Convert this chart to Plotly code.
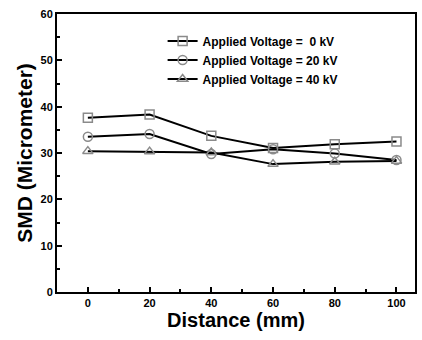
import plotly.graph_objects as go

distance = [0, 20, 40, 60, 80, 100]
smd_0kv = [37.6, 38.3, 33.7, 31.1, 31.9, 32.5]
smd_20kv = [33.5, 34.1, 29.8, 30.8, 29.9, 28.5]
smd_40kv = [30.4, 30.3, 30.1, 27.6, 28.1, 28.3]
names = ["Applied Voltage =  0 kV", "Applied Voltage = 20 kV", "Applied Voltage = 40 kV"]
symbols = ["square-open", "circle-open", "triangle-up-open"]

fig = go.Figure()
for ys, nm, sym in zip([smd_0kv, smd_20kv, smd_40kv], names, symbols):
    fig.add_trace(go.Scatter(
        x=distance, y=ys, name=nm, mode="lines+markers",
        line=dict(color="black", width=2),
        marker=dict(symbol=sym, size=9, color="#8a8a8a", line=dict(width=1.5, color="#8a8a8a")),
    ))

font = "Liberation Sans, Arial, sans-serif"
fig.update_layout(
    width=422, height=340,
    margin=dict(l=57, r=5, t=14, b=48),
    paper_bgcolor="white", plot_bgcolor="white",
    font=dict(family=font, color="black"),
    showlegend=True,
    legend=dict(x=0.295, y=0.955, xanchor="left", yanchor="top",
                bgcolor="rgba(0,0,0,0)", tracegroupgap=0,
                font=dict(size=12, family=font, weight="bold", color="black"),
                itemwidth=30),
)
fig.update_xaxes(
    range=[-10, 106], tickmode="array", tickvals=[0, 20, 40, 60, 80, 100],
    ticks="inside", ticklen=5, tickwidth=1.5, tickcolor="black",
    minor=dict(tickvals=[10, 30, 50, 70, 90], ticks="inside", ticklen=3, tickcolor="black"),
    showline=True, linecolor="black", linewidth=2, mirror=True,
    showgrid=False, zeroline=False,
    tickfont=dict(size=11, weight="bold", color="black"),
    title=dict(text="Distance (mm)", font=dict(size=20, weight="bold", color="black"), standoff=5),
)
fig.update_yaxes(
    range=[0, 60], tickmode="array", tickvals=[0, 10, 20, 30, 40, 50, 60],
    ticks="inside", ticklen=5, tickwidth=1.5, tickcolor="black",
    minor=dict(tickvals=[5, 15, 25, 35, 45, 55], ticks="inside", ticklen=3, tickcolor="black"),
    showline=True, linecolor="black", linewidth=2, mirror=True,
    showgrid=False, zeroline=False,
    tickfont=dict(size=11, weight="bold", color="black"),
    title=dict(text="SMD (Micrometer)", font=dict(size=21, weight="bold", color="black"), standoff=2),
)
fig.write_html("out.html")
